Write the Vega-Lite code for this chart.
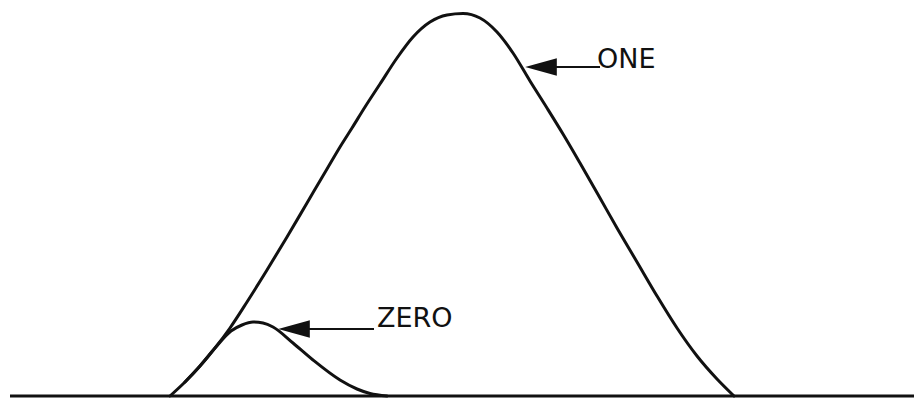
{
  "$schema": "https://vega.github.io/schema/vega-lite/v6.json",
  "width": 914,
  "height": 398,
  "autosize": "none",
  "padding": 0,
  "background": "white",
  "config": {"view": {"stroke": null}},
  "datasets": {
    "curves": [
      {"series": "ONE", "t": 170, "v": 2},
      {"series": "ONE", "t": 185, "v": 16},
      {"series": "ONE", "t": 200, "v": 32},
      {"series": "ONE", "t": 215, "v": 50},
      {"series": "ONE", "t": 230, "v": 70},
      {"series": "ONE", "t": 247, "v": 96},
      {"series": "ONE", "t": 267, "v": 128},
      {"series": "ONE", "t": 287, "v": 161},
      {"series": "ONE", "t": 307, "v": 195},
      {"series": "ONE", "t": 327, "v": 229},
      {"series": "ONE", "t": 340, "v": 251},
      {"series": "ONE", "t": 352, "v": 270},
      {"series": "ONE", "t": 365, "v": 291},
      {"series": "ONE", "t": 380, "v": 314},
      {"series": "ONE", "t": 397, "v": 340},
      {"series": "ONE", "t": 413, "v": 361},
      {"series": "ONE", "t": 430, "v": 376},
      {"series": "ONE", "t": 447, "v": 383},
      {"series": "ONE", "t": 463, "v": 384.5},
      {"series": "ONE", "t": 480, "v": 380},
      {"series": "ONE", "t": 497, "v": 366},
      {"series": "ONE", "t": 513, "v": 345},
      {"series": "ONE", "t": 530, "v": 317},
      {"series": "ONE", "t": 547, "v": 290},
      {"series": "ONE", "t": 563, "v": 264},
      {"series": "ONE", "t": 580, "v": 235},
      {"series": "ONE", "t": 600, "v": 200},
      {"series": "ONE", "t": 617, "v": 170},
      {"series": "ONE", "t": 637, "v": 136},
      {"series": "ONE", "t": 657, "v": 102},
      {"series": "ONE", "t": 677, "v": 70},
      {"series": "ONE", "t": 697, "v": 42},
      {"series": "ONE", "t": 717, "v": 19},
      {"series": "ONE", "t": 734, "v": 2},
      {"series": "ZERO", "t": 185, "v": 16},
      {"series": "ZERO", "t": 200, "v": 32},
      {"series": "ZERO", "t": 215, "v": 50},
      {"series": "ZERO", "t": 231, "v": 67},
      {"series": "ZERO", "t": 242, "v": 73},
      {"series": "ZERO", "t": 253, "v": 76},
      {"series": "ZERO", "t": 263, "v": 75},
      {"series": "ZERO", "t": 273, "v": 71},
      {"series": "ZERO", "t": 293, "v": 55},
      {"series": "ZERO", "t": 313, "v": 38},
      {"series": "ZERO", "t": 340, "v": 18},
      {"series": "ZERO", "t": 357, "v": 9},
      {"series": "ZERO", "t": 370, "v": 4.5},
      {"series": "ZERO", "t": 387, "v": 2}
    ],
    "baseline": [{"t": 10, "t2": 914, "v": 2}],
    "labels": [
      {"label": "ZERO", "shaftStart": 305, "shaftEnd": 374, "headT": 294, "v": 69, "textT": 377, "textV": 71},
      {"label": "ONE", "shaftStart": 550, "shaftEnd": 600, "headT": 541, "v": 331, "textT": 597, "textV": 330}
    ]
  },
  "layer": [
    {
      "data": {"name": "curves"},
      "mark": {"type": "line", "interpolate": "monotone", "strokeWidth": 3, "color": "#111111", "strokeCap": "round"},
      "encoding": {
        "x": {"field": "t", "type": "quantitative", "scale": {"domain": [0, 914], "nice": false, "zero": false}, "axis": null},
        "y": {"field": "v", "type": "quantitative", "scale": {"domain": [0, 398], "nice": false, "zero": false}, "axis": null},
        "detail": {"field": "series"}
      }
    },
    {
      "data": {"name": "baseline"},
      "mark": {"type": "rule", "strokeWidth": 3, "color": "#111111"},
      "encoding": {
        "x": {"field": "t", "type": "quantitative"},
        "x2": {"field": "t2"},
        "y": {"field": "v", "type": "quantitative"}
      }
    },
    {
      "data": {"name": "labels"},
      "mark": {"type": "rule", "strokeWidth": 2, "color": "#111111"},
      "encoding": {
        "x": {"field": "shaftStart", "type": "quantitative"},
        "x2": {"field": "shaftEnd"},
        "y": {"field": "v", "type": "quantitative"}
      }
    },
    {
      "data": {"name": "labels"},
      "mark": {"type": "point", "shape": "M-1,0L1,-0.55L1,0.55Z", "filled": true, "size": 1000, "color": "#111111", "opacity": 1},
      "encoding": {
        "x": {"field": "headT", "type": "quantitative"},
        "y": {"field": "v", "type": "quantitative"}
      }
    },
    {
      "data": {"name": "labels"},
      "mark": {"type": "text", "font": "DejaVu Sans", "fontSize": 27, "align": "left", "baseline": "alphabetic", "color": "#111111"},
      "encoding": {
        "x": {"field": "textT", "type": "quantitative"},
        "y": {"field": "textV", "type": "quantitative"},
        "text": {"field": "label"}
      }
    }
  ]
}
